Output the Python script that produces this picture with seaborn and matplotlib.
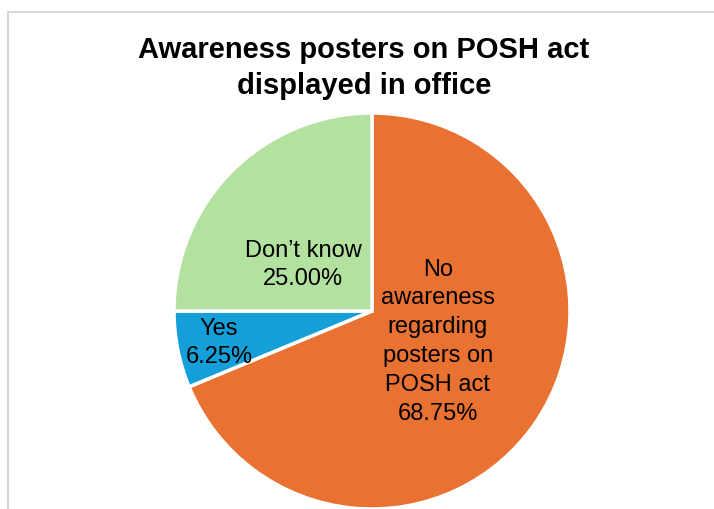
import matplotlib
matplotlib.use("Agg")
import matplotlib.pyplot as plt
from matplotlib.lines import Line2D
import seaborn as sns

categories = ["No\nawareness\nregarding\nposters on\nPOSH act", "Yes", "Don\u2019t know"]
shares = [68.75, 6.25, 25.00]
colors = ["#E97132", "#159FD8", "#B3E2A0"]
# label anchor offsets inside each wedge, in units of the pie radius
label_offsets = [(0.333, -0.15), (-0.773, -0.157), (-0.348, 0.237)]

sns.set_theme(style="white")
plt.rcParams["font.family"] = ["Liberation Sans", "DejaVu Sans"]

fig = plt.figure(figsize=(7.14, 5.10), dpi=100)
W, H = 714, 510

# chart frame (only the top and left edges fall inside the canvas)
fig.add_artist(Line2D([8 / W, 8 / W], [0, 497 / H], color="#d9d9d9", lw=1.5,
                      transform=fig.transFigure))
fig.add_artist(Line2D([8 / W, 1], [497 / H, 497 / H], color="#d9d9d9", lw=1.5,
                      transform=fig.transFigure))

fig.text(364 / W, 1 - 68 / H, "Awareness posters on POSH act\ndisplayed in office",
         ha="center", va="center", fontsize=21, fontweight="bold",
         linespacing=1.38, color="black")

R = 198
ax = fig.add_axes([(372 - R) / W, (H - 312 - R) / H, 2 * R / W, 2 * R / H])
wedges, _ = ax.pie(shares, colors=colors, startangle=90, counterclock=False,
                   radius=1, wedgeprops=dict(edgecolor="white", linewidth=2.5))
for w in wedges:
    w.set_clip_on(False)
ax.set_xlim(-1, 1)
ax.set_ylim(-1, 1)
ax.set_aspect("equal")
ax.axis("off")

for cat, val, (dx, dy) in zip(categories, shares, label_offsets):
    ax.text(dx, dy, f"{cat}\n{val:.2f}%", ha="center", va="center",
            fontsize=17, linespacing=1.4, color="black")

fig.savefig("out.png", dpi=100)
